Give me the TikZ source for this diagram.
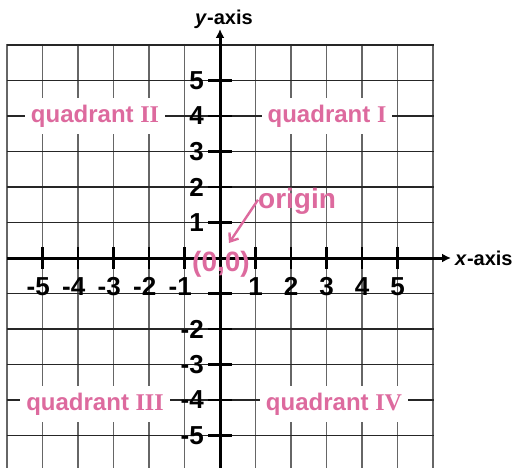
\documentclass[tikz,border=0pt]{standalone}
\usepackage{fontspec}
\setmainfont{Liberation Sans}
\newfontfamily\romfont{Liberation Serif}
\usetikzlibrary{arrows.meta}
\definecolor{qpink}{RGB}{221,106,158}
\begin{document}
\begin{tikzpicture}[x=1pt,y=-1pt,
  vgrid/.style={draw=black!60,line width=1.2pt},
  hgrid/.style={draw=black!85,line width=1.2pt},
  axisline/.style={draw=black,line width=3pt,-{Latex[length=9pt,width=9pt]}},
  tickmark/.style={draw=black,line width=2.8pt},
  ticklab/.style={font=\fontsize{26}{26}\selectfont\bfseries,inner sep=0pt},
  quadlab/.style={fill=white,text=qpink,font=\fontsize{24}{24}\selectfont\bfseries,inner xsep=6pt,minimum height=36pt},
  pinklab/.style={text=qpink,font=\fontsize{28}{28}\selectfont\bfseries,inner sep=0pt},
  axlab/.style={font=\fontsize{20}{20}\selectfont\bfseries,inner sep=0pt}]
\useasboundingbox (0,0) rectangle (514,468);
\fill[white] (0,0) rectangle (514,468);
% grid
\foreach \k in {-6,...,6}
  \draw[vgrid] ({220+35.5*\k},44) -- ({220+35.5*\k},468);
\foreach \j in {-5,...,6}
  \draw[hgrid] (6.5,{258-35.5*\j}) -- (433.5,{258-35.5*\j});
% quadrant labels
\node[quadlab] (q2) at (95,116) {quadrant {\romfont II}};
\node[quadlab] (q1) at (327,116) {quadrant {\romfont I}};
\node[quadlab] (q3) at (95,404) {quadrant {\romfont III}};
\node[quadlab] (q4) at (334,404) {quadrant {\romfont IV}};
% axes
\coordinate (xl) at (7,258);
\coordinate (xr) at (451,258);
\coordinate (yb) at (220,468);
\coordinate (yt) at (220,29);
\draw[axisline] (xl) -- (xr);
\draw[axisline] (yb) -- (yt);
% ticks
\foreach \k in {-5,...,-1,1,2,...,5}
  \draw[tickmark] ({220+35.5*\k},247) -- ({220+35.5*\k},269);
\foreach \j in {-5,...,-1,1,2,...,5}
  \draw[tickmark] (208,{258-35.5*\j}) -- (232,{258-35.5*\j});
% tick labels
\foreach \k in {-5,...,-1}
  \node[ticklab,anchor=base] (xl\k) at ({220+35.5*\k},295) {\llap{-}\the\numexpr-\k\relax};
\foreach \k in {1,...,5}
  \node[ticklab,anchor=base] (xr\k) at ({220+35.5*\k},295) {\k};
\foreach \j in {1,...,5}
  \node[ticklab,anchor=east] (yu\j) at (204,{258-35.5*\j}) {\j};
\foreach \j in {-5,...,-2}
  \node[ticklab,anchor=east] (yd\j) at (204,{258-35.5*\j}) {-\the\numexpr-\j\relax};
% axis labels
\node[axlab,anchor=base] (ylab) at (224,25) {\textit{y}-axis};
\node[axlab,anchor=base west] (xlab) at (455,265) {\textit{x}-axis};
% origin
\node[pinklab,anchor=base west] (orig) at (258,208) {origin};
\node[pinklab,anchor=base] (zero) at (221,271) {(0,0)};
\draw[qpink,line width=2.4pt,-{Straight Barb[length=7pt,width=11pt]}] (orig.west) ++(0,-1) coordinate (oa) (oa) -- (229,243) coordinate (ob);
\end{tikzpicture}
\end{document}
